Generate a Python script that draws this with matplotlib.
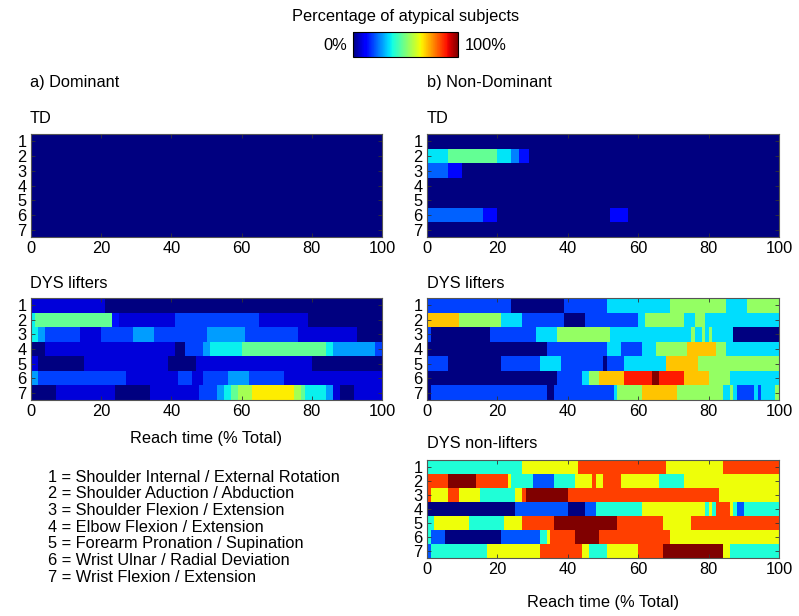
import numpy as np
import matplotlib
matplotlib.use("Agg")
import matplotlib.pyplot as plt
from matplotlib.cm import ScalarMappable
from matplotlib.colors import Normalize

plt.rcParams['font.family'] = ['Liberation Sans', 'DejaVu Sans']

# ---- data: per row, segment end positions (% reach time) and % of atypical subjects ----
rows = [1, 2, 3, 4, 5, 6, 7]
xticks = [0, 20, 40, 60, 80, 100]

td_dom_ends = [[100], [100], [100], [100], [100], [100], [100]]
td_dom_vals = [[0], [0], [0], [0], [0], [0], [0]]

td_nd_ends = [[100],
              [6, 20, 24, 26, 29, 100],
              [6, 10, 100],
              [100],
              [100],
              [16, 20, 52, 57, 100],
              [100]]
td_nd_vals = [[0],
              [35, 47, 35, 25, 14, 0],
              [22, 13, 0],
              [0],
              [0],
              [22, 13, 0, 13, 0],
              [0]]

lift_dom_ends = [[21, 100],
                 [1, 23, 25, 41, 65, 79, 100],
                 [2, 4, 14, 20, 29, 35, 50, 61, 76, 93, 100],
                 [4, 41, 44, 49, 51, 60, 84, 86, 98, 100],
                 [2, 15, 39, 47, 80, 100],
                 [2, 27, 42, 46, 49, 56, 62, 72, 100],
                 [7, 24, 34, 48, 53, 55, 57, 59, 63, 75, 77, 78, 84, 86, 88, 92, 100]]
lift_dom_vals = [[8, 0],
                 [36, 47, 14, 8, 19, 8, 0],
                 [36, 28, 19, 8, 19, 28, 19, 28, 19, 8, 0],
                 [0, 8, 0, 19, 28, 36, 47, 36, 28, 19],
                 [8, 0, 8, 0, 8, 0],
                 [28, 19, 8, 19, 8, 19, 28, 19, 8],
                 [0, 8, 0, 8, 19, 28, 36, 47, 55, 66, 55, 47, 36, 28, 8, 0, 8]]

lift_nd_ends = [[24, 39, 51, 69, 85, 91, 100],
                [9, 21, 27, 39, 45, 60, 62, 73, 76, 79, 100],
                [1, 18, 31, 37, 52, 75, 76, 78, 79, 80, 81, 87, 100],
                [34, 51, 55, 61, 65, 74, 82, 85, 100],
                [6, 21, 32, 38, 50, 51, 56, 68, 77, 100],
                [37, 44, 46, 49, 56, 64, 66, 73, 80, 86, 100],
                [1, 34, 36, 53, 54, 61, 71, 84, 86, 87, 88, 93, 94, 95, 99, 100]]
lift_nd_vals = [[19, 0, 19, 34, 53, 34, 53],
                [70, 53, 34, 19, 0, 19, 34, 53, 34, 53, 34],
                [19, 0, 19, 34, 53, 34, 53, 34, 53, 34, 53, 34, 0],
                [0, 19, 34, 19, 34, 53, 70, 53, 34],
                [19, 0, 19, 34, 19, 0, 19, 34, 70, 53],
                [0, 19, 34, 53, 70, 88, 100, 88, 70, 53, 34],
                [0, 19, 0, 19, 34, 53, 70, 53, 34, 53, 34, 19, 34, 19, 34, 53]]

nonlift_nd_ends = [[27, 43, 68, 84, 100],
                   [6, 14, 23, 24, 30, 36, 42, 47, 48, 50, 55, 66, 73, 100],
                   [1, 6, 9, 15, 25, 27, 28, 40, 83, 100],
                   [25, 40, 45, 48, 61, 79, 80, 81, 82, 86, 87, 88, 90, 100],
                   [2, 12, 22, 27, 36, 54, 67, 75, 100],
                   [1, 5, 21, 32, 34, 35, 42, 49, 69, 100],
                   [1, 17, 32, 44, 46, 51, 60, 67, 84, 86, 100]]
nonlift_nd_vals = [[39, 64, 84, 64, 84],
                   [84, 100, 84, 64, 39, 21, 39, 64, 84, 64, 84, 64, 39, 64],
                   [84, 64, 84, 64, 39, 64, 84, 100, 84, 64],
                   [0, 21, 0, 21, 39, 64, 39, 64, 39, 84, 64, 39, 21, 39],
                   [39, 64, 39, 64, 84, 100, 84, 64, 84],
                   [39, 21, 0, 21, 39, 64, 84, 100, 84, 64],
                   [21, 39, 64, 84, 64, 39, 64, 84, 100, 64, 39]]

legend_lines = ["1 = Shoulder Internal / External Rotation",
                "2 = Shoulder Aduction / Abduction",
                "3 = Shoulder Flexion / Extension",
                "4 = Elbow Flexion / Extension",
                "5 = Forearm Pronation / Supination",
                "6 = Wrist Ulnar / Radial Deviation",
                "7 = Wrist Flexion / Extension"]


def build(ends, vals):
    grid = np.zeros((len(rows), 100))
    for r, (e, v) in enumerate(zip(ends, vals)):
        start = 0
        for stop, val in zip(e, v):
            grid[r, start:stop] = val
            start = stop
    return grid


W, H = 799, 616
fig = plt.figure(figsize=(W / 100, H / 100), dpi=100)
FS = 11.8
cmap = plt.get_cmap('jet')
norm = Normalize(0, 100)


def px_axes(x0, y0, x1, y1):
    return fig.add_axes([x0 / W, 1 - y1 / H, (x1 - x0) / W, (y1 - y0) / H])


def heat(ax, ends, vals):
    g = build(ends, vals)
    xe = np.arange(101)
    ye = np.arange(0.5, 8.5, 1.0)
    ax.pcolormesh(xe, ye, g, cmap=cmap, norm=norm, shading='flat')
    ax.set_xlim(0, 100)
    ax.set_ylim(7.5, 0.5)
    ax.set_xticks(xticks)
    ax.set_yticks(rows)
    ax.tick_params(direction='in', length=3, width=0.6, top=True, right=True,
                   labelsize=FS, colors='#333333', labelcolor='black', pad=3)
    for s in ax.spines.values():
        s.set_color('#555555')
        s.set_linewidth(0.8)


LX0, LX1 = 31, 382
RX0, RX1 = 427, 779

ax1 = px_axes(LX0, 134, LX1, 237)
heat(ax1, td_dom_ends, td_dom_vals)
ax2 = px_axes(RX0, 134, RX1, 237)
heat(ax2, td_nd_ends, td_nd_vals)
ax3 = px_axes(LX0, 298, LX1, 400)
heat(ax3, lift_dom_ends, lift_dom_vals)
ax4 = px_axes(RX0, 298, RX1, 400)
heat(ax4, lift_nd_ends, lift_nd_vals)
ax5 = px_axes(RX0, 460, RX1, 558)
heat(ax5, nonlift_nd_ends, nonlift_nd_vals)


def ftext(x, y, s, ha='left', va='center', **kw):
    fig.text(x / W, 1 - y / H, s, ha=ha, va=va, fontsize=FS, **kw)


# colorbar
cax = px_axes(353, 32, 458, 57)
cb = fig.colorbar(ScalarMappable(norm=norm, cmap=cmap), cax=cax, orientation='horizontal')
cb.set_ticks([])
cb.outline.set_linewidth(0.8)
ftext(406, 16, "Percentage of atypical subjects", ha='center')
ftext(347, 45, "0%", ha='right')
ftext(465, 45, "100%", ha='left')

ftext(30, 83, "a) Dominant")
ftext(427, 83, "b) Non-Dominant")
ftext(30, 119, "TD")
ftext(427, 119, "TD")
ftext(30, 284, "DYS lifters")
ftext(427, 284, "DYS lifters")
ftext(427, 444, "DYS non-lifters")
ftext(206, 439, "Reach time (% Total)", ha='center')
ftext(603, 602, "Reach time (% Total)", ha='center')

for i, line in enumerate(legend_lines):
    ftext(48, 477 + i * 16.7, line)

fig.savefig("out.png", dpi=100)
